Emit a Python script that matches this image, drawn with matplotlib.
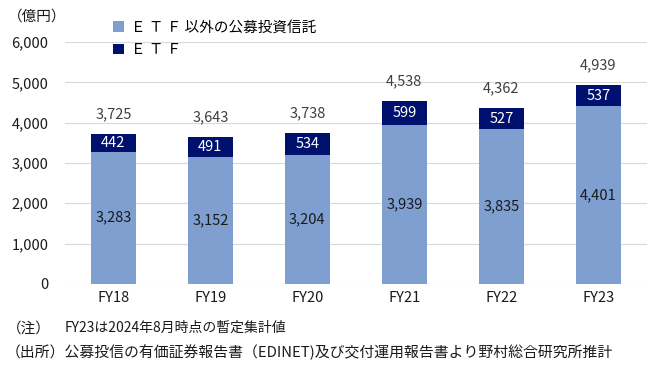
import numpy as np
import matplotlib
matplotlib.use("Agg")
import matplotlib.pyplot as plt

plt.rcParams['font.family'] = ['Noto Sans CJK JP', 'DejaVu Sans']

categories = ["FY18", "FY19", "FY20", "FY21", "FY22", "FY23"]
non_etf = [3283, 3152, 3204, 3939, 3835, 4401]
etf = [442, 491, 534, 599, 527, 537]
totals = [3725, 3643, 3738, 4538, 4362, 4939]
yticks = [0, 1000, 2000, 3000, 4000, 5000, 6000]

light = "#7F9FD1"
dark = "#00106E"
txt = "#1a1a1a"

fig = plt.figure(figsize=(6.56, 3.72), dpi=100)
ax = fig.add_axes([0.099, 0.237, 0.887, 0.650])

x = np.arange(len(categories))
w = 0.46
b1 = ax.bar(x, non_etf, w, color=light, label="Ｅ Ｔ Ｆ 以外の公募投資信託", zorder=3)
b2 = ax.bar(x, etf, w, bottom=non_etf, color=dark, label="Ｅ Ｔ Ｆ", zorder=3)

for i in range(len(x)):
    ax.text(x[i], non_etf[i] / 2, f"{non_etf[i]:,}", ha="center", va="center",
            fontsize=10.5, color=txt, zorder=4)
    ax.text(x[i], non_etf[i] + etf[i] / 2, f"{etf[i]:,}", ha="center", va="center",
            fontsize=10.5, color="white", zorder=4)
    ax.annotate(f"{totals[i]:,}", (x[i], totals[i]), xytext=(0, 14),
                textcoords="offset points", ha="center", va="center",
                fontsize=10.5, color="#404040")

ax.set_xlim(-0.5, len(x) - 0.5)
ax.set_ylim(0, 6000)
ax.set_yticks(yticks)
ax.set_yticklabels([f"{v:,}" for v in yticks])
ax.set_xticks(x)
ax.set_xticklabels(categories)
ax.tick_params(axis="both", length=0, labelsize=10.5, labelcolor=txt)
ax.tick_params(axis="y", pad=12)
ax.tick_params(axis="x", pad=5)
ax.grid(axis="y", color="#d9d9d9", linewidth=0.8, zorder=0)
for s in ax.spines.values():
    s.set_visible(False)

leg = fig.legend(handles=[b1, b2], loc="upper left", bbox_to_anchor=(0.153, 0.98),
                 frameon=False, fontsize=10.5, handlelength=0.7, handleheight=0.7,
                 handletextpad=0.5, labelspacing=0.6)

fig.text(0.012, 0.955, "（億円）", fontsize=10.5, color=txt, va="center")
fig.text(0.010, 0.118, "（注）", fontsize=10.5, color=txt, va="center")
fig.text(0.099, 0.118, "FY23は2024年8月時点の暫定集計値", fontsize=10, color=txt, va="center")
fig.text(0.008, 0.053, "（出所）公募投信の有価証券報告書（EDINET)及び交付運用報告書より野村総合研究所推計",
         fontsize=10.7, color=txt, va="center")

fig.savefig("out.png", dpi=100)
